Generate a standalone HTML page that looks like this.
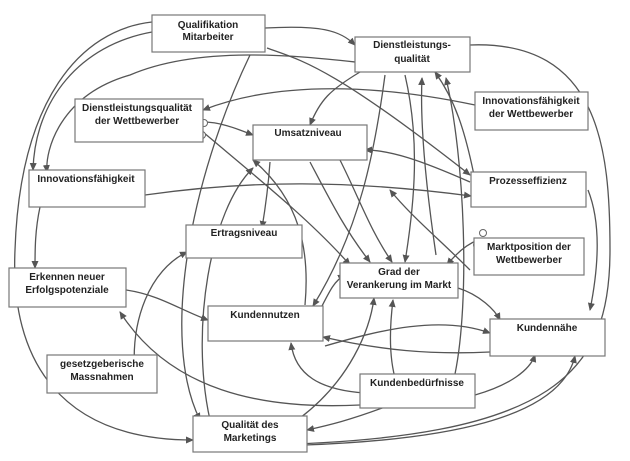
<!DOCTYPE html><html><head><style>body{margin:0;background:#fff}svg{display:block}text{font-family:"Liberation Sans",sans-serif;font-size:10px;font-weight:bold;fill:#222;text-anchor:middle}</style></head><body>
<svg width="630" height="461" viewBox="0 0 630 461">
<defs><marker id="a" markerWidth="8" markerHeight="8" refX="7" refY="4" orient="auto" markerUnits="userSpaceOnUse"><path d="M0,0.5 L8,4 L0,7.5z" fill="#555"/></marker></defs>
<g fill="none" stroke="#555" stroke-width="1.3" marker-end="url(#a)">
<path d="M152,22 C80,30 20,100 15,250 C10,360 60,440 193,440"/>
<path d="M152,32 C80,45 35,100 33,170"/>
<path d="M265,28 C320,25 340,30 355,45"/>
<path d="M267,48 C300,60 330,65 470,175"/>
<path d="M250,55 C190,180 160,340 200,420"/>
<path d="M355,62 C300,56 200,45 130,75 C60,95 45,150 47,172"/>
<path d="M470,45 C600,40 610,150 610,250 C610,370 560,440 257,445"/>
<path d="M475,105 C380,85 280,80 203,110"/>
<path d="M203,122 C220,122 235,128 253,135"/>
<path d="M203,132 C260,180 310,220 350,265"/>
<path d="M145,195 C250,180 350,180 471,196"/>
<path d="M40,207 C35,230 35,250 35,268"/>
<path d="M360,72 C330,90 320,100 310,125"/>
<path d="M270,162 C268,190 265,210 262,228"/>
<path d="M340,160 C360,200 370,230 392,262"/>
<path d="M310,162 C330,200 345,230 370,262"/>
<path d="M385,75 C375,150 360,230 313,306"/>
<path d="M405,75 C420,140 415,200 405,262"/>
<path d="M436,255 C425,180 420,120 422,78"/>
<path d="M475,180 C465,130 455,100 435,72"/>
<path d="M470,182 C420,160 390,150 365,150"/>
<path d="M470,270 C440,240 410,215 390,190"/>
<path d="M588,190 C600,220 600,260 590,310"/>
<path d="M478,240 C465,245 455,255 447,265"/>
<path d="M126,290 C160,295 180,310 208,320"/>
<path d="M320,310 C330,290 335,280 345,275"/>
<path d="M305,305 C310,250 300,200 253,160"/>
<path d="M210,420 C190,330 210,210 253,168"/>
<path d="M325,346 C380,330 440,315 490,333"/>
<path d="M490,352 C430,355 380,350 323,337"/>
<path d="M458,288 C480,295 495,310 500,320"/>
<path d="M400,392 C390,370 388,340 393,300"/>
<path d="M365,393 C320,390 295,375 291,343"/>
<path d="M360,405 C260,410 170,390 120,312"/>
<path d="M475,395 C510,385 530,370 535,355"/>
<path d="M455,374 C470,300 465,160 446,78"/>
<path d="M385,407 C350,420 330,425 307,430"/>
<path d="M305,445 C440,440 560,420 575,356"/>
<path d="M300,418 C350,380 370,330 374,298"/>
<path d="M135,375 C130,320 150,270 187,252"/>
</g>
<g fill="#fff" stroke="#666" stroke-width="1">
<circle cx="204" cy="123" r="3.5"/><circle cx="202" cy="135" r="3.5"/><circle cx="483" cy="233" r="3.5"/><circle cx="477" cy="245" r="3.5"/><circle cx="135" cy="376" r="3.5"/>
</g>
<g fill="#fff" stroke="#777" stroke-width="1.2">
<rect x="152" y="15" width="113" height="37"/>
<rect x="355" y="37" width="115" height="35"/>
<rect x="75" y="99" width="128" height="43"/>
<rect x="253" y="125" width="114" height="35"/>
<rect x="475" y="92" width="113" height="38"/>
<rect x="29" y="170" width="116" height="37"/>
<rect x="471" y="172" width="115" height="35"/>
<rect x="186" y="225" width="116" height="33"/>
<rect x="474" y="238" width="110" height="37"/>
<rect x="340" y="263" width="118" height="35"/>
<rect x="9" y="268" width="117" height="39"/>
<rect x="208" y="306" width="115" height="35"/>
<rect x="490" y="319" width="115" height="37"/>
<rect x="47" y="355" width="110" height="38"/>
<rect x="360" y="374" width="115" height="34"/>
<rect x="193" y="416" width="114" height="36"/>
</g>
<text x="208" y="28">Qualifikation</text><text x="208" y="40">Mitarbeiter</text>
<text x="412" y="48">Dienstleistungs-</text><text x="412" y="62">qualität</text>
<text x="137" y="111">Dienstleistungsqualität</text><text x="137" y="124">der Wettbewerber</text>
<text x="308" y="136">Umsatzniveau</text>
<text x="531" y="104">Innovationsfähigkeit</text><text x="531" y="117">der Wettbewerber</text>
<text x="86" y="182">Innovationsfähigkeit</text>
<text x="528" y="184">Prozesseffizienz</text>
<text x="244" y="236">Ertragsniveau</text>
<text x="529" y="250">Marktposition der</text><text x="529" y="263">Wettbewerber</text>
<text x="399" y="275">Grad der</text><text x="399" y="288">Verankerung im Markt</text>
<text x="67" y="280">Erkennen neuer</text><text x="67" y="293">Erfolgspotenziale</text>
<text x="265" y="318">Kundennutzen</text>
<text x="547" y="331">Kundennähe</text>
<text x="102" y="367">gesetzgeberische</text><text x="102" y="380">Massnahmen</text>
<text x="417" y="386">Kundenbedürfnisse</text>
<text x="250" y="428">Qualität des</text><text x="250" y="441">Marketings</text>
</svg></body></html>
